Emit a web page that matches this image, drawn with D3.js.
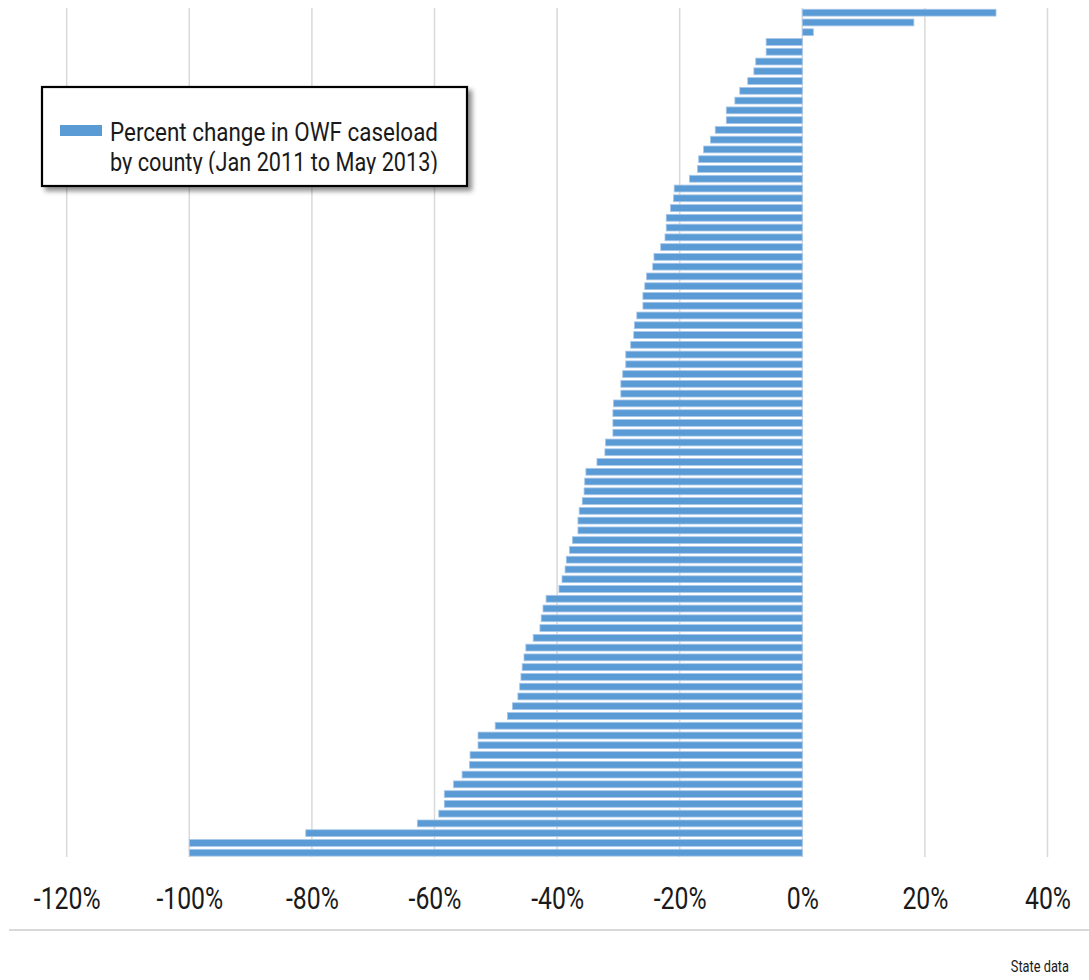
<!DOCTYPE html>
<html>
<head>
<meta charset="utf-8">
<script src="https://cdn.jsdelivr.net/npm/d3@7"></script>
<style>
  html, body { margin:0; padding:0; background:#fff; }
  svg { display:block; }
  text { font-family:Roboto,"Liberation Sans",sans-serif; fill:#1a1a1a; }
</style>
</head>
<body>
<svg id="chart"></svg>
<script>
const W = 1089, H = 980;

// percent change in OWF caseload, one value per county, sorted as in the chart
const VALUES = [
  31.6, 18.2, 1.8, -5.9, -5.9, -7.6, -7.9, -8.9, -10.2, -11.0,
  -12.4, -12.4, -14.2, -15.0, -16.1, -16.9, -17.1, -18.4, -20.9, -21.0,
  -21.5, -22.2, -22.2, -22.4, -23.1, -24.2, -24.4, -25.4, -25.7, -26.0,
  -26.0, -27.0, -27.4, -27.5, -28.0, -28.8, -28.8, -29.3, -29.6, -29.6,
  -30.8, -30.9, -30.9, -30.9, -32.1, -32.2, -33.5, -35.3, -35.5, -35.6,
  -35.9, -36.4, -36.6, -36.6, -37.5, -38.0, -38.5, -38.7, -39.2, -39.7,
  -41.8, -42.3, -42.6, -42.8, -43.9, -45.1, -45.4, -45.7, -45.9, -46.1,
  -46.4, -47.3, -48.1, -50.1, -52.9, -52.9, -54.2, -54.3, -55.5, -56.9,
  -58.4, -58.4, -59.3, -62.8, -81.0, -100.0, -100.0
];
const COUNTIES = VALUES.map((v, i) => 'County ' + (i + 1));
const TICKS = [-120, -100, -80, -60, -40, -20, 0, 20, 40];
const LEGEND_LINES = ['Percent change in OWF caseload', 'by county (Jan 2011 to May 2013)'];
const SOURCE = 'State data';

const BAR = '#5b9bd5', GRID = '#d9d9d9';
const NARROW = 'scale(0.8,1)';   // squeeze Roboto to look like the condensed face

const svg = d3.select('#chart').attr('width', W).attr('height', H);
const defs = svg.append('defs');

const x = d3.scaleLinear().domain([-120, 40]).range([66.7, 1047.5]);
const y = d3.scaleBand().domain(COUNTIES).range([7.8, 857.6])
  .paddingInner(0.3).paddingOuter(0.15);

// gridlines
svg.append('g').selectAll('line').data(TICKS).join('line')
  .attr('x1', d => x(d)).attr('x2', d => x(d))
  .attr('y1', 8).attr('y2', 857)
  .attr('stroke', GRID).attr('stroke-width', 1.5);

// bars
svg.append('g').selectAll('rect').data(VALUES).join('rect')
  .attr('x', d => x(Math.min(0, d)))
  .attr('width', d => Math.abs(x(d) - x(0)))
  .attr('y', (d, i) => y(COUNTIES[i]))
  .attr('height', y.bandwidth())
  .attr('fill', BAR)
  .attr('stroke', '#a7c7ea').attr('stroke-width', 0.8);

// tick labels
const axis = d3.axisBottom(x).tickValues(TICKS).tickSize(0).tickPadding(0)
  .tickFormat(d => d + '%');
const ax = svg.append('g').attr('transform', 'translate(0,909)').call(axis);
ax.select('.domain').remove();
ax.selectAll('text').attr('dy', 0).attr('font-size', 31)
  .attr('fill', '#111').attr('transform', NARROW)
  .style('font-family', 'Roboto,"Liberation Sans",sans-serif');

// bottom rule
svg.append('line').attr('x1', 9).attr('x2', W).attr('y1', 930).attr('y2', 930)
  .attr('stroke', GRID).attr('stroke-width', 2);

svg.append('text').attr('transform', 'translate(1069,972) ' + NARROW)
  .attr('text-anchor', 'end').attr('font-size', 16).text(SOURCE);

// legend
const sh = defs.append('filter').attr('id', 'shadow')
  .attr('x', '-10%').attr('y', '-20%').attr('width', '125%').attr('height', '150%');
sh.append('feDropShadow').attr('dx', 4).attr('dy', 4).attr('stdDeviation', 2.5)
  .attr('flood-color', '#000').attr('flood-opacity', 0.45);

defs.append('clipPath').attr('id', 'legclip')
  .append('rect').attr('x', 42).attr('y', 88).attr('width', 424).attr('height', 86);

const leg = svg.append('g');
leg.append('rect').attr('x', 42).attr('y', 87).attr('width', 425).attr('height', 99)
  .attr('fill', '#fff').attr('stroke', '#000').attr('stroke-width', 2.2)
  .attr('filter', 'url(#shadow)');
leg.append('rect').attr('x', 60).attr('y', 125).attr('width', 42).attr('height', 11)
  .attr('fill', BAR);
leg.append('g').attr('clip-path', 'url(#legclip)')
  .selectAll('text').data(LEGEND_LINES).join('text')
  .attr('x', 110).attr('y', (d, i) => 141 + i * 30)
  .attr('font-size', 26)
  .attr('textLength', 328).attr('lengthAdjust', 'spacingAndGlyphs')
  .text(d => d);
</script>
</body>
</html>
